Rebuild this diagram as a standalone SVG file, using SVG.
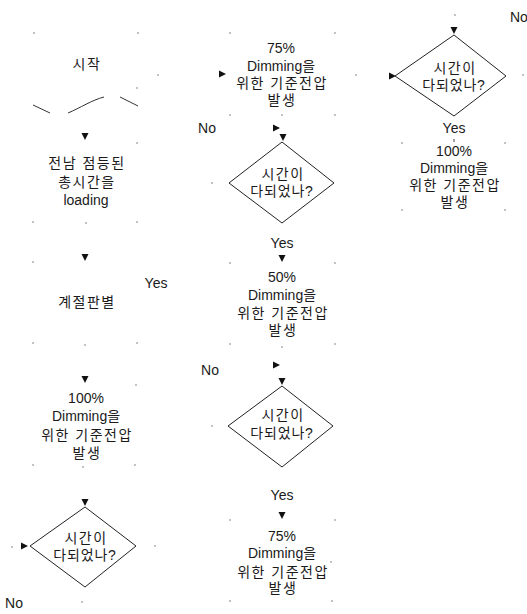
<svg xmlns="http://www.w3.org/2000/svg" width="527" height="614" viewBox="0 0 527 614">
<style>
text{font-family:"Liberation Sans","Noto Sans CJK KR",Arial,sans-serif;font-size:14px;fill:#1a1a1a;text-anchor:middle}
.k{letter-spacing:1.5px}
.q{letter-spacing:0.8px}
.dia{fill:none;stroke:#222;stroke-width:1}
.arr{fill:#111}
.dot{fill:#777}
.wave{fill:none;stroke:#333;stroke-width:1}
</style>
<defs>
<path id="ad" d="M-3.5,-4 L3.5,-4 L0,3 Z"/>
<path id="ar" d="M-4,-3.5 L-4,3.5 L3,0 Z"/>
<circle id="d" r="0.8"/>
</defs>
<rect width="527" height="614" fill="#fff"/>

<g id="start">
<text class="k" x="87" y="69">시작</text>
<path class="wave" d="M33,105 L50,113"/>
<path class="wave" d="M68,113 C80,108 92,100 104,97"/>
<path class="wave" d="M120,97 L138,106"/>
</g>
<g id="load">
<text class="k" x="87" y="168">전남 점등된</text>
<text class="k" x="87" y="187">총시간을</text>
<text x="86" y="205">loading</text>
</g>
<g id="season">
<text class="k" x="87" y="307">계절판별</text>
</g>
<g id="v100a">
<text x="86" y="403">100%</text>
<text x="86" y="421">Dimming을</text>
<text class="k" x="87" y="440">위한 기준전압</text>
<text class="k" x="87" y="458">발생</text>
</g>
<g id="q1">
<polygon class="dia" points="85,507 136,546 85,587 30,546"/>
<text class="k" x="86" y="543">시간이</text>
<text class="q" x="85" y="560">다되었나?</text>
</g>

<g id="v75a">
<text x="281" y="53">75%</text>
<text x="281" y="71">Dimming을</text>
<text class="k" x="282" y="88">위한 기준전압</text>
<text class="k" x="282" y="105">발생</text>
</g>
<g id="q2">
<polygon class="dia" points="282,142 334,183 282,223 229,183"/>
<text class="k" x="283" y="179">시간이</text>
<text class="q" x="282" y="196">다되었나?</text>
</g>
<g id="v50">
<text x="282" y="282">50%</text>
<text x="282" y="300">Dimming을</text>
<text class="k" x="283" y="318">위한 기준전압</text>
<text class="k" x="283" y="335">발생</text>
</g>
<g id="q3">
<polygon class="dia" points="282,386 333,426 282,467 228,426"/>
<text class="k" x="283" y="420">시간이</text>
<text class="q" x="282" y="438">다되었나?</text>
</g>
<g id="v75b">
<text x="282" y="541">75%</text>
<text x="282" y="558">Dimming을</text>
<text class="k" x="283" y="577">위한 기준전압</text>
<text class="k" x="283" y="593">발생</text>
</g>

<g id="q4">
<polygon class="dia" points="454,35 506,76 454,116 395,76"/>
<text class="k" x="455" y="73">시간이</text>
<text class="q" x="454" y="90">다되었나?</text>
</g>
<g id="v100b">
<text x="454" y="156">100%</text>
<text x="454" y="173">Dimming을</text>
<text class="k" x="455" y="190">위한 기준전압</text>
<text class="k" x="455" y="207">발생</text>
</g>

<g id="connectors">
<use href="#ad" class="arr" x="85" y="137"/>
<use href="#ad" class="arr" x="85" y="258"/>
<use href="#ad" class="arr" x="85" y="380"/>
<use href="#ad" class="arr" x="85" y="503"/>
<use href="#ad" class="arr" x="283" y="138"/>
<use href="#ad" class="arr" x="282" y="259"/>
<use href="#ad" class="arr" x="282" y="382"/>
<use href="#ad" class="arr" x="282" y="516"/>
<use href="#ad" class="arr" x="454" y="31"/>
<use href="#ar" class="arr" x="25" y="546"/>
<use href="#ar" class="arr" x="223" y="74"/>
<use href="#ar" class="arr" x="277" y="128"/>
<use href="#ar" class="arr" x="277" y="365"/>
<use href="#ar" class="arr" x="393" y="76"/>
<text x="156" y="288">Yes</text>
<text x="14" y="608">No</text>
<text x="207" y="133">No</text>
<text x="282" y="248">Yes</text>
<text x="210" y="375">No</text>
<text x="282" y="500">Yes</text>
<text x="510" y="22" style="text-anchor:start">No</text>
<text x="454" y="133">Yes</text>
<path d="M454,139 L454,142" stroke="#444" stroke-width="1"/>
</g>

<g id="marks" class="dot">
<use href="#d" x="34" y="33"/><use href="#d" x="138" y="33"/><use href="#d" x="158" y="75"/>
<use href="#d" x="137" y="88"/><use href="#d" x="137" y="143"/><use href="#d" x="33" y="222"/>
<use href="#d" x="86" y="223"/><use href="#d" x="137" y="222"/><use href="#d" x="33" y="262"/>
<use href="#d" x="33" y="343"/><use href="#d" x="85" y="345"/><use href="#d" x="137" y="343"/>
<use href="#d" x="136" y="385"/><use href="#d" x="33" y="465"/><use href="#d" x="83" y="467"/>
<use href="#d" x="135" y="465"/><use href="#d" x="12" y="547"/><use href="#d" x="155" y="546"/>
<use href="#d" x="82" y="602"/>
<use href="#d" x="230" y="33"/><use href="#d" x="335" y="33"/><use href="#d" x="356" y="75"/>
<use href="#d" x="230" y="115"/><use href="#d" x="282" y="115"/><use href="#d" x="335" y="115"/>
<use href="#d" x="212" y="183"/><use href="#d" x="230" y="263"/><use href="#d" x="335" y="263"/>
<use href="#d" x="230" y="344"/><use href="#d" x="282" y="347"/><use href="#d" x="335" y="344"/>
<use href="#d" x="212" y="426"/><use href="#d" x="230" y="520"/><use href="#d" x="335" y="520"/>
<use href="#d" x="331" y="562"/><use href="#d" x="230" y="601"/><use href="#d" x="332" y="601"/>
<use href="#d" x="455" y="15"/><use href="#d" x="402" y="143"/><use href="#d" x="505" y="143"/>
<use href="#d" x="523" y="75"/><use href="#d" x="402" y="210"/><use href="#d" x="505" y="210"/>
</g>
</svg>
